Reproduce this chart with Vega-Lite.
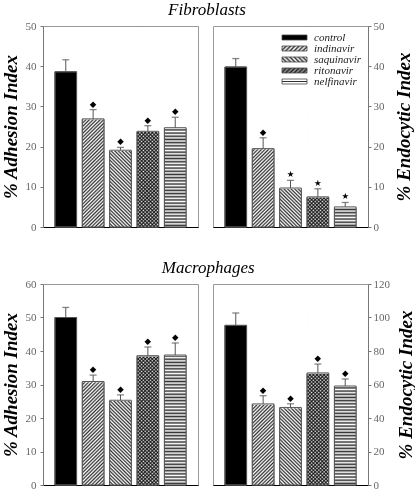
{
"$schema": "https://vega.github.io/schema/vega-lite/v6.json",
"background": "white",
"padding": {"left": 0, "top": 0, "right": 0, "bottom": 0},
"params": [
{"name": "stA", "value": [
{"offset":0,"color":"#333"},{"offset":0.008,"color":"#fff"},{"offset":0.016,"color":"#333"},{"offset":0.024,"color":"#fff"},{"offset":0.032,"color":"#333"},{"offset":0.04,"color":"#fff"},{"offset":0.048,"color":"#333"},{"offset":0.056,"color":"#fff"},{"offset":0.064,"color":"#333"},{"offset":0.072,"color":"#fff"},
{"offset":0.08,"color":"#333"},{"offset":0.088,"color":"#fff"},{"offset":0.096,"color":"#333"},{"offset":0.104,"color":"#fff"},{"offset":0.112,"color":"#333"},{"offset":0.12,"color":"#fff"},{"offset":0.128,"color":"#333"},{"offset":0.136,"color":"#fff"},{"offset":0.144,"color":"#333"},{"offset":0.152,"color":"#fff"},
{"offset":0.16,"color":"#333"},{"offset":0.168,"color":"#fff"},{"offset":0.176,"color":"#333"},{"offset":0.184,"color":"#fff"},{"offset":0.192,"color":"#333"},{"offset":0.2,"color":"#fff"},{"offset":0.208,"color":"#333"},{"offset":0.216,"color":"#fff"},{"offset":0.224,"color":"#333"},{"offset":0.232,"color":"#fff"},
{"offset":0.24,"color":"#333"},{"offset":0.248,"color":"#fff"},{"offset":0.256,"color":"#333"},{"offset":0.264,"color":"#fff"},{"offset":0.272,"color":"#333"},{"offset":0.28,"color":"#fff"},{"offset":0.288,"color":"#333"},{"offset":0.296,"color":"#fff"},{"offset":0.304,"color":"#333"},{"offset":0.312,"color":"#fff"},
{"offset":0.32,"color":"#333"},{"offset":0.328,"color":"#fff"},{"offset":0.336,"color":"#333"},{"offset":0.344,"color":"#fff"},{"offset":0.352,"color":"#333"},{"offset":0.36,"color":"#fff"},{"offset":0.368,"color":"#333"},{"offset":0.376,"color":"#fff"},{"offset":0.384,"color":"#333"},{"offset":0.392,"color":"#fff"},
{"offset":0.4,"color":"#333"},{"offset":0.408,"color":"#fff"},{"offset":0.416,"color":"#333"},{"offset":0.424,"color":"#fff"},{"offset":0.432,"color":"#333"},{"offset":0.44,"color":"#fff"},{"offset":0.448,"color":"#333"},{"offset":0.456,"color":"#fff"},{"offset":0.464,"color":"#333"},{"offset":0.472,"color":"#fff"},
{"offset":0.48,"color":"#333"},{"offset":0.488,"color":"#fff"},{"offset":0.496,"color":"#333"},{"offset":0.504,"color":"#fff"},{"offset":0.512,"color":"#333"},{"offset":0.52,"color":"#fff"},{"offset":0.528,"color":"#333"},{"offset":0.536,"color":"#fff"},{"offset":0.544,"color":"#333"},{"offset":0.552,"color":"#fff"},
{"offset":0.56,"color":"#333"},{"offset":0.568,"color":"#fff"},{"offset":0.576,"color":"#333"},{"offset":0.584,"color":"#fff"},{"offset":0.592,"color":"#333"},{"offset":0.6,"color":"#fff"},{"offset":0.608,"color":"#333"},{"offset":0.616,"color":"#fff"},{"offset":0.624,"color":"#333"},{"offset":0.632,"color":"#fff"},
{"offset":0.64,"color":"#333"},{"offset":0.648,"color":"#fff"},{"offset":0.656,"color":"#333"},{"offset":0.664,"color":"#fff"},{"offset":0.672,"color":"#333"},{"offset":0.68,"color":"#fff"},{"offset":0.688,"color":"#333"},{"offset":0.696,"color":"#fff"},{"offset":0.704,"color":"#333"},{"offset":0.712,"color":"#fff"},
{"offset":0.72,"color":"#333"},{"offset":0.728,"color":"#fff"},{"offset":0.736,"color":"#333"},{"offset":0.744,"color":"#fff"},{"offset":0.752,"color":"#333"},{"offset":0.76,"color":"#fff"},{"offset":0.768,"color":"#333"},{"offset":0.776,"color":"#fff"},{"offset":0.784,"color":"#333"},{"offset":0.792,"color":"#fff"},
{"offset":0.8,"color":"#333"},{"offset":0.808,"color":"#fff"},{"offset":0.816,"color":"#333"},{"offset":0.824,"color":"#fff"},{"offset":0.832,"color":"#333"},{"offset":0.84,"color":"#fff"},{"offset":0.848,"color":"#333"},{"offset":0.856,"color":"#fff"},{"offset":0.864,"color":"#333"},{"offset":0.872,"color":"#fff"},
{"offset":0.88,"color":"#333"},{"offset":0.888,"color":"#fff"},{"offset":0.896,"color":"#333"},{"offset":0.904,"color":"#fff"},{"offset":0.912,"color":"#333"},{"offset":0.92,"color":"#fff"},{"offset":0.928,"color":"#333"},{"offset":0.936,"color":"#fff"},{"offset":0.944,"color":"#333"},{"offset":0.952,"color":"#fff"},
{"offset":0.96,"color":"#333"},{"offset":0.968,"color":"#fff"},{"offset":0.976,"color":"#333"},{"offset":0.984,"color":"#fff"},{"offset":0.992,"color":"#333"},{"offset":1,"color":"#fff"}
]},
{"name": "gIndi", "expr": "{gradient:'linear',x1:0,y1:0,x2:0.1177,y2:1.0948,stops:stA}"},
{"name": "gSaq", "expr": "{gradient:'linear',x1:0,y1:1,x2:0.1177,y2:-0.0948,stops:stA}"},
{"name": "gNel", "expr": "{gradient:'linear',x1:0,y1:0,x2:0,y2:1,stops:stA}"},
{"name": "stL", "value": [
{"offset":0,"color":"#333"},{"offset":0.0714,"color":"#fff"},{"offset":0.1429,"color":"#333"},{"offset":0.2143,"color":"#fff"},{"offset":0.2857,"color":"#333"},{"offset":0.3571,"color":"#fff"},{"offset":0.4286,"color":"#333"},{"offset":0.5,"color":"#fff"},{"offset":0.5714,"color":"#333"},{"offset":0.6429,"color":"#fff"},{"offset":0.7143,"color":"#333"},{"offset":0.7857,"color":"#fff"},{"offset":0.8571,"color":"#333"},{"offset":0.9286,"color":"#fff"},{"offset":1,"color":"#333"}
]},
{"name": "stR", "value": [
{"offset":0,"color":"#222"},{"offset":0.0714,"color":"#999"},{"offset":0.1429,"color":"#222"},{"offset":0.2143,"color":"#999"},{"offset":0.2857,"color":"#222"},{"offset":0.3571,"color":"#999"},{"offset":0.4286,"color":"#222"},{"offset":0.5,"color":"#999"},{"offset":0.5714,"color":"#222"},{"offset":0.6429,"color":"#999"},{"offset":0.7143,"color":"#222"},{"offset":0.7857,"color":"#999"},{"offset":0.8571,"color":"#222"},{"offset":0.9286,"color":"#999"},{"offset":1,"color":"#222"}
]},
{"name": "lgIndi", "expr": "{gradient:'linear',x1:0,y1:0,x2:1.154,y2:0.2308,stops:stL}"},
{"name": "lgSaq", "expr": "{gradient:'linear',x1:0,y1:1,x2:1.154,y2:0.7692,stops:stL}"},
{"name": "lgRit", "expr": "{gradient:'linear',x1:0,y1:0,x2:1.154,y2:0.2308,stops:stR}"},
{"name": "lgNel", "value": {"gradient":"linear","x1":0,"y1":0,"x2":0,"y2":1,"stops":[{"offset":0,"color":"#fff"},{"offset":0.3,"color":"#fff"},{"offset":0.5,"color":"#333"},{"offset":0.7,"color":"#fff"},{"offset":1,"color":"#fff"}]}}
],
"data": {"values": [
{"panel":"fa","drug":"control","mean":38.6,"upper":41.6,"sig":""},
{"panel":"fa","drug":"indinavir","mean":26.9,"upper":29.2,"sig":"◆"},
{"panel":"fa","drug":"saquinavir","mean":19.1,"upper":19.8,"sig":"◆"},
{"panel":"fa","drug":"ritonavir","mean":23.8,"upper":25.2,"sig":"◆"},
{"panel":"fa","drug":"nelfinavir","mean":24.7,"upper":27.3,"sig":"◆"},
{"panel":"fe","drug":"control","mean":39.8,"upper":41.9,"sig":""},
{"panel":"fe","drug":"indinavir","mean":19.5,"upper":22.2,"sig":"◆"},
{"panel":"fe","drug":"saquinavir","mean":9.7,"upper":11.6,"sig":"★"},
{"panel":"fe","drug":"ritonavir","mean":7.5,"upper":9.5,"sig":"★"},
{"panel":"fe","drug":"nelfinavir","mean":5.0,"upper":6.1,"sig":"★"},
{"panel":"ma","drug":"control","mean":50.0,"upper":53.0,"sig":""},
{"panel":"ma","drug":"indinavir","mean":30.9,"upper":32.8,"sig":"◆"},
{"panel":"ma","drug":"saquinavir","mean":25.3,"upper":26.9,"sig":"◆"},
{"panel":"ma","drug":"ritonavir","mean":38.6,"upper":41.2,"sig":"◆"},
{"panel":"ma","drug":"nelfinavir","mean":38.8,"upper":42.4,"sig":"◆"},
{"panel":"me","drug":"control","mean":95.3,"upper":102.7,"sig":""},
{"panel":"me","drug":"indinavir","mean":48.4,"upper":53.3,"sig":"◆"},
{"panel":"me","drug":"saquinavir","mean":46.3,"upper":48.5,"sig":"◆"},
{"panel":"me","drug":"ritonavir","mean":66.9,"upper":72.2,"sig":"◆"},
{"panel":"me","drug":"nelfinavir","mean":59.1,"upper":63.3,"sig":"◆"}
]},
"resolve": {"scale": {"fill": "independent"}, "legend": {"fill": "independent"}},
"spacing": 25,
"vconcat": [
{
"title": {"text": "Fibroblasts"},
"spacing": 13,
"resolve": {"scale": {"fill": "independent"}, "legend": {"fill": "independent"}},
"hconcat": [
{
"width": 155, "height": 201,
"transform": [{"filter": "datum.panel=='fa'"}],
"encoding": {"x": {"field": "drug", "type": "nominal", "sort": ["control","indinavir","saquinavir","ritonavir","nelfinavir"], "scale": {"paddingInner": 0.21, "paddingOuter": 0.437}, "axis": {"title": null, "labels": false, "ticks": false, "domainColor": "#000"}}},
"layer": [
{"mark": {"type": "bar", "stroke": "#555", "strokeWidth": 1}, "encoding": {"y": {"field": "mean", "type": "quantitative", "scale": {"domain": [0, 50]}, "axis": {"title": "% Adhesion Index", "values": [0,10,20,30,40,50], "tickCount": 6, "labelOverlap": false, "labelPadding": 4, "titlePadding": 5}}, "fill": {"field": "drug", "type": "nominal", "scale": {"domain": ["control","indinavir","saquinavir","ritonavir","nelfinavir"], "range": ["#000000", {"expr": "lgIndi"}, {"expr": "lgSaq"}, {"expr": "lgRit"}, {"expr": "lgNel"}]}, "legend": null}}},
{"transform": [{"filter": "datum.drug=='indinavir'"}], "mark": {"type": "bar", "fill": {"expr": "gIndi"}}, "encoding": {"y": {"datum": 49.5}, "y2": {"datum": 0}}},
{"transform": [{"filter": "datum.drug=='saquinavir' || datum.drug=='ritonavir'"}], "mark": {"type": "bar", "fill": {"expr": "gSaq"}}, "encoding": {"y": {"datum": 49.5}, "y2": {"datum": 0}}},
{"transform": [{"filter": "datum.drug=='ritonavir'"}], "mark": {"type": "bar", "fill": {"expr": "gIndi"}, "blend": "multiply"}, "encoding": {"y": {"datum": 49.5}, "y2": {"datum": 0}}},
{"transform": [{"filter": "datum.drug=='nelfinavir'"}], "mark": {"type": "bar", "fill": {"expr": "gNel"}}, "encoding": {"y": {"datum": 49.5}, "y2": {"datum": 0}}},
{"transform": [{"filter": "datum.drug!='control'"}], "mark": {"type": "bar", "fill": "#fff", "stroke": "#fff", "strokeWidth": 1.5}, "encoding": {"y": {"field": "mean", "type": "quantitative"}, "y2": {"datum": 49.5}}},
{"mark": {"type": "bar", "filled": false, "stroke": "#555", "strokeWidth": 1}, "encoding": {"y": {"field": "mean", "type": "quantitative"}}},
{"mark": {"type": "rule", "color": "#555", "strokeWidth": 1}, "encoding": {"y": {"field": "mean", "type": "quantitative"}, "y2": {"field": "upper"}}},
{"mark": {"type": "tick", "color": "#555", "thickness": 1.3, "size": 7}, "encoding": {"y": {"field": "upper", "type": "quantitative"}}},
{"mark": {"type": "text", "font": "DejaVu Sans", "fontSize": 8.5, "dy": -6, "baseline": "middle", "color": "#000"}, "encoding": {"y": {"field": "upper", "type": "quantitative"}, "text": {"field": "sig"}}}
]
},
{
"width": 155, "height": 201,
"transform": [{"filter": "datum.panel=='fe'"}],
"encoding": {"x": {"field": "drug", "type": "nominal", "sort": ["control","indinavir","saquinavir","ritonavir","nelfinavir"], "scale": {"paddingInner": 0.21, "paddingOuter": 0.437}, "axis": {"title": null, "labels": false, "ticks": false, "domainColor": "#000"}}},
"layer": [
{"mark": {"type": "bar", "stroke": "#555", "strokeWidth": 1}, "encoding": {"y": {"field": "mean", "type": "quantitative", "scale": {"domain": [0, 50]}, "axis": {"orient": "right", "title": "% Endocytic Index", "values": [0,10,20,30,40,50], "tickCount": 6, "labelOverlap": false, "labelPadding": 2, "titlePadding": 10, "titleAngle": 270, "titleBaseline": "top"}}, "fill": {"field": "drug", "type": "nominal", "scale": {"domain": ["control","indinavir","saquinavir","ritonavir","nelfinavir"], "range": ["#000000", {"expr": "lgIndi"}, {"expr": "lgSaq"}, {"expr": "lgRit"}, {"expr": "lgNel"}]}, "legend": {"orient": "top-right", "offset": 6, "title": null, "padding": 0, "symbolType": "M-3.57,-0.714H3.57V0.714H-3.57Z", "symbolSize": 49, "symbolStrokeColor": "#444", "symbolStrokeWidth": 0.8, "labelFont": "Liberation Serif", "labelFontStyle": "italic", "labelFontSize": 11, "labelColor": "#222", "labelOffset": 14, "rowPadding": -3}}}},
{"transform": [{"filter": "datum.drug=='indinavir'"}], "mark": {"type": "bar", "fill": {"expr": "gIndi"}}, "encoding": {"y": {"datum": 49.5}, "y2": {"datum": 0}}},
{"transform": [{"filter": "datum.drug=='saquinavir' || datum.drug=='ritonavir'"}], "mark": {"type": "bar", "fill": {"expr": "gSaq"}}, "encoding": {"y": {"datum": 49.5}, "y2": {"datum": 0}}},
{"transform": [{"filter": "datum.drug=='ritonavir'"}], "mark": {"type": "bar", "fill": {"expr": "gIndi"}, "blend": "multiply"}, "encoding": {"y": {"datum": 49.5}, "y2": {"datum": 0}}},
{"transform": [{"filter": "datum.drug=='nelfinavir'"}], "mark": {"type": "bar", "fill": {"expr": "gNel"}}, "encoding": {"y": {"datum": 49.5}, "y2": {"datum": 0}}},
{"transform": [{"filter": "datum.drug!='control'"}], "mark": {"type": "bar", "fill": "#fff", "stroke": "#fff", "strokeWidth": 1.5}, "encoding": {"y": {"field": "mean", "type": "quantitative"}, "y2": {"datum": 49.5}}},
{"mark": {"type": "bar", "filled": false, "stroke": "#555", "strokeWidth": 1}, "encoding": {"y": {"field": "mean", "type": "quantitative"}}},
{"mark": {"type": "rule", "color": "#555", "strokeWidth": 1}, "encoding": {"y": {"field": "mean", "type": "quantitative"}, "y2": {"field": "upper"}}},
{"mark": {"type": "tick", "color": "#555", "thickness": 1.3, "size": 7}, "encoding": {"y": {"field": "upper", "type": "quantitative"}}},
{"mark": {"type": "text", "font": "DejaVu Sans", "fontSize": 8.5, "dy": -6, "baseline": "middle", "color": "#000"}, "encoding": {"y": {"field": "upper", "type": "quantitative"}, "text": {"field": "sig"}}}
]
}
]
},
{
"title": {"text": "Macrophages"},
"spacing": 13,
"resolve": {"scale": {"fill": "independent"}, "legend": {"fill": "independent"}},
"hconcat": [
{
"width": 155, "height": 201,
"transform": [{"filter": "datum.panel=='ma'"}],
"encoding": {"x": {"field": "drug", "type": "nominal", "sort": ["control","indinavir","saquinavir","ritonavir","nelfinavir"], "scale": {"paddingInner": 0.21, "paddingOuter": 0.437}, "axis": {"title": null, "labels": false, "ticks": false, "domainColor": "#000"}}},
"layer": [
{"mark": {"type": "bar", "stroke": "#555", "strokeWidth": 1}, "encoding": {"y": {"field": "mean", "type": "quantitative", "scale": {"domain": [0, 60]}, "axis": {"title": "% Adhesion Index", "values": [0,10,20,30,40,50,60], "tickCount": 7, "labelOverlap": false, "labelPadding": 4, "titlePadding": 5}}, "fill": {"field": "drug", "type": "nominal", "scale": {"domain": ["control","indinavir","saquinavir","ritonavir","nelfinavir"], "range": ["#000000", {"expr": "lgIndi"}, {"expr": "lgSaq"}, {"expr": "lgRit"}, {"expr": "lgNel"}]}, "legend": null}}},
{"transform": [{"filter": "datum.drug=='indinavir'"}], "mark": {"type": "bar", "fill": {"expr": "gIndi"}}, "encoding": {"y": {"datum": 59.4}, "y2": {"datum": 0}}},
{"transform": [{"filter": "datum.drug=='saquinavir' || datum.drug=='ritonavir'"}], "mark": {"type": "bar", "fill": {"expr": "gSaq"}}, "encoding": {"y": {"datum": 59.4}, "y2": {"datum": 0}}},
{"transform": [{"filter": "datum.drug=='ritonavir'"}], "mark": {"type": "bar", "fill": {"expr": "gIndi"}, "blend": "multiply"}, "encoding": {"y": {"datum": 59.4}, "y2": {"datum": 0}}},
{"transform": [{"filter": "datum.drug=='nelfinavir'"}], "mark": {"type": "bar", "fill": {"expr": "gNel"}}, "encoding": {"y": {"datum": 59.4}, "y2": {"datum": 0}}},
{"transform": [{"filter": "datum.drug!='control'"}], "mark": {"type": "bar", "fill": "#fff", "stroke": "#fff", "strokeWidth": 1.5}, "encoding": {"y": {"field": "mean", "type": "quantitative"}, "y2": {"datum": 59.4}}},
{"mark": {"type": "bar", "filled": false, "stroke": "#555", "strokeWidth": 1}, "encoding": {"y": {"field": "mean", "type": "quantitative"}}},
{"mark": {"type": "rule", "color": "#555", "strokeWidth": 1}, "encoding": {"y": {"field": "mean", "type": "quantitative"}, "y2": {"field": "upper"}}},
{"mark": {"type": "tick", "color": "#555", "thickness": 1.3, "size": 7}, "encoding": {"y": {"field": "upper", "type": "quantitative"}}},
{"mark": {"type": "text", "font": "DejaVu Sans", "fontSize": 8.5, "dy": -6, "baseline": "middle", "color": "#000"}, "encoding": {"y": {"field": "upper", "type": "quantitative"}, "text": {"field": "sig"}}}
]
},
{
"width": 155, "height": 201,
"transform": [{"filter": "datum.panel=='me'"}],
"encoding": {"x": {"field": "drug", "type": "nominal", "sort": ["control","indinavir","saquinavir","ritonavir","nelfinavir"], "scale": {"paddingInner": 0.21, "paddingOuter": 0.437}, "axis": {"title": null, "labels": false, "ticks": false, "domainColor": "#000"}}},
"layer": [
{"mark": {"type": "bar", "stroke": "#555", "strokeWidth": 1}, "encoding": {"y": {"field": "mean", "type": "quantitative", "scale": {"domain": [0, 120]}, "axis": {"orient": "right", "title": "% Endocytic Index", "values": [0,20,40,60,80,100,120], "tickCount": 7, "labelOverlap": false, "labelPadding": 2, "titlePadding": 7, "titleAngle": 270, "titleBaseline": "top"}}, "fill": {"field": "drug", "type": "nominal", "scale": {"domain": ["control","indinavir","saquinavir","ritonavir","nelfinavir"], "range": ["#000000", {"expr": "lgIndi"}, {"expr": "lgSaq"}, {"expr": "lgRit"}, {"expr": "lgNel"}]}, "legend": null}}},
{"transform": [{"filter": "datum.drug=='indinavir'"}], "mark": {"type": "bar", "fill": {"expr": "gIndi"}}, "encoding": {"y": {"datum": 118.8}, "y2": {"datum": 0}}},
{"transform": [{"filter": "datum.drug=='saquinavir' || datum.drug=='ritonavir'"}], "mark": {"type": "bar", "fill": {"expr": "gSaq"}}, "encoding": {"y": {"datum": 118.8}, "y2": {"datum": 0}}},
{"transform": [{"filter": "datum.drug=='ritonavir'"}], "mark": {"type": "bar", "fill": {"expr": "gIndi"}, "blend": "multiply"}, "encoding": {"y": {"datum": 118.8}, "y2": {"datum": 0}}},
{"transform": [{"filter": "datum.drug=='nelfinavir'"}], "mark": {"type": "bar", "fill": {"expr": "gNel"}}, "encoding": {"y": {"datum": 118.8}, "y2": {"datum": 0}}},
{"transform": [{"filter": "datum.drug!='control'"}], "mark": {"type": "bar", "fill": "#fff", "stroke": "#fff", "strokeWidth": 1.5}, "encoding": {"y": {"field": "mean", "type": "quantitative"}, "y2": {"datum": 118.8}}},
{"mark": {"type": "bar", "filled": false, "stroke": "#555", "strokeWidth": 1}, "encoding": {"y": {"field": "mean", "type": "quantitative"}}},
{"mark": {"type": "rule", "color": "#555", "strokeWidth": 1}, "encoding": {"y": {"field": "mean", "type": "quantitative"}, "y2": {"field": "upper"}}},
{"mark": {"type": "tick", "color": "#555", "thickness": 1.3, "size": 7}, "encoding": {"y": {"field": "upper", "type": "quantitative"}}},
{"mark": {"type": "text", "font": "DejaVu Sans", "fontSize": 8.5, "dy": -6, "baseline": "middle", "color": "#000"}, "encoding": {"y": {"field": "upper", "type": "quantitative"}, "text": {"field": "sig"}}}
]
}
]
}
],
"config": {
"view": {"stroke": "#999", "strokeWidth": 1},
"axis": {"grid": false, "labelOverlap": false, "labelFont": "Liberation Serif", "labelFontSize": 11, "labelColor": "#666", "domainColor": "#777", "tickColor": "#777", "tickSize": 3, "titleFont": "Liberation Serif", "titleFontSize": 19, "titleFontWeight": "bold", "titleFontStyle": "italic", "titleColor": "#000"},
"title": {"font": "Liberation Serif", "fontSize": 17, "fontStyle": "italic", "fontWeight": "normal", "anchor": "middle", "offset": 1, "color": "#000"}
}
}
